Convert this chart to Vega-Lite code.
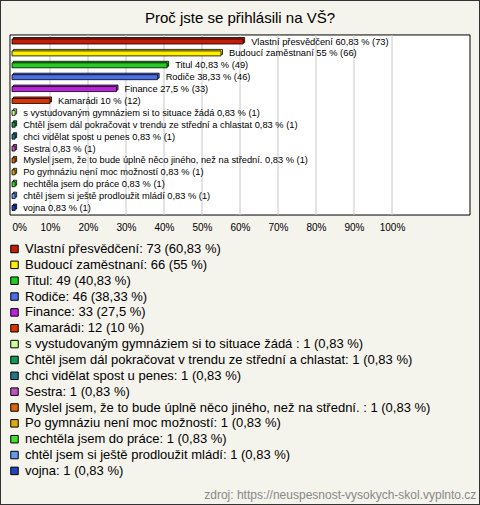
{
  "$schema": "https://vega.github.io/schema/vega-lite/v6.json",
  "width": 480,
  "height": 505,
  "autosize": {"type": "none"},
  "padding": 0,
  "background": "#f4f3ec",
  "config": {
    "view": {"stroke": "#333333", "strokeWidth": 2, "fill": "#f4f3ec"},
    "font": "Liberation Sans"
  },
  "title": {
    "text": "Proč jste se přihlásili na VŠ?",
    "fontSize": 15,
    "fontWeight": "normal",
    "anchor": "middle",
    "offset": -26,
    "color": "#000000",
    "font": "Liberation Sans"
  },
  "datasets": {
    "rows": [
      {"rank": 0, "pct": 60.83, "legend": "Vlastní přesvědčení: 73 (60,83 %)", "barLabel": "Vlastní přesvědčení 60,83 % (73)"},
      {"rank": 1, "pct": 55, "legend": "Budoucí zaměstnaní: 66 (55 %)", "barLabel": "Budoucí zaměstnaní 55 % (66)"},
      {"rank": 2, "pct": 40.83, "legend": "Titul: 49 (40,83 %)", "barLabel": "Titul 40,83 % (49)"},
      {"rank": 3, "pct": 38.33, "legend": "Rodiče: 46 (38,33 %)", "barLabel": "Rodiče 38,33 % (46)"},
      {"rank": 4, "pct": 27.5, "legend": "Finance: 33 (27,5 %)", "barLabel": "Finance 27,5 % (33)"},
      {"rank": 5, "pct": 10, "legend": "Kamarádi: 12 (10 %)", "barLabel": "Kamarádi 10 % (12)"},
      {"rank": 6, "pct": 0.83, "legend": "s vystudovaným gymnáziem si to situace žádá : 1 (0,83 %)", "barLabel": "s vystudovaným gymnáziem si to situace žádá  0,83 % (1)"},
      {"rank": 7, "pct": 0.83, "legend": "Chtěl jsem dál pokračovat v trendu ze střední a chlastat: 1 (0,83 %)", "barLabel": "Chtěl jsem dál pokračovat v trendu ze střední a chlastat 0,83 % (1)"},
      {"rank": 8, "pct": 0.83, "legend": "chci vidělat spost u penes: 1 (0,83 %)", "barLabel": "chci vidělat spost u penes 0,83 % (1)"},
      {"rank": 9, "pct": 0.83, "legend": "Sestra: 1 (0,83 %)", "barLabel": "Sestra 0,83 % (1)"},
      {"rank": 10, "pct": 0.83, "legend": "Myslel jsem, že to bude úplně něco jiného, než na střední. : 1 (0,83 %)", "barLabel": "Myslel jsem, že to bude úplně něco jiného, než na střední.  0,83 % (1)"},
      {"rank": 11, "pct": 0.83, "legend": "Po gymnáziu není moc možností: 1 (0,83 %)", "barLabel": "Po gymnáziu není moc možností 0,83 % (1)"},
      {"rank": 12, "pct": 0.83, "legend": "nechtěla jsem do práce: 1 (0,83 %)", "barLabel": "nechtěla jsem do práce 0,83 % (1)"},
      {"rank": 13, "pct": 0.83, "legend": "chtěl jsem si ještě prodloužit mládí: 1 (0,83 %)", "barLabel": "chtěl jsem si ještě prodloužit mládí 0,83 % (1)"},
      {"rank": 14, "pct": 0.83, "legend": "vojna: 1 (0,83 %)", "barLabel": "vojna 0,83 % (1)"}
    ],
    "grid": [{"v": 10}, {"v": 20}, {"v": 30}, {"v": 40}, {"v": 50}, {"v": 60}, {"v": 70}, {"v": 80}, {"v": 90}, {"v": 100}],
    "source": [{"src": "zdroj: https://neuspesnost-vysokych-skol.vyplnto.cz"}],
    "box": [{"x0": -0.53, "x1": 120.53, "y0": -0.55, "y1": 14.59}]
  },
  "layer": [
    {
      "data": {"name": "box"},
      "mark": {"type": "rect", "fill": "#ffffff", "stroke": "#000000", "strokeWidth": 1},
      "encoding": {
        "x": {"field": "x0", "type": "quantitative",
          "scale": {"domain": [0, 100], "range": [12, 392], "zero": false, "nice": false, "padding": 0},
          "axis": {
            "orient": "bottom", "offset": -283, "grid": false, "domain": false, "ticks": false, "tickSize": 0,
            "values": [0, 10, 20, 30, 40, 50, 60, 70, 80, 90, 100],
            "labelExpr": "datum.value + '%'", "labelFontSize": 10, "labelColor": "#000000", "labelPadding": 0,
            "labelBaseline": "top", "labelFont": "Liberation Sans",
            "labelAlign": {"expr": "datum.value === 0 ? 'left' : 'center'"},
            "labelFlush": false, "labelOverlap": false, "title": null
          }},
        "x2": {"field": "x1"},
        "y": {"field": "y0", "type": "quantitative",
          "scale": {"domain": [0, 14], "range": [41.5, 208], "zero": false, "nice": false, "padding": 0},
          "axis": null},
        "y2": {"field": "y1"}
      }
    },
    {
      "data": {"name": "grid"},
      "mark": {"type": "rule", "color": "#c8c8c8", "strokeWidth": 1},
      "encoding": {
        "x": {"field": "v", "type": "quantitative"},
        "y": {"datum": -0.55, "type": "quantitative"},
        "y2": {"datum": 14.59}
      }
    },
    {
      "data": {"name": "rows"},
      "mark": {"type": "bar", "orient": "horizontal", "size": 5, "stroke": "#000000", "strokeWidth": 0.8, "xOffset": 1.5, "x2Offset": 1.5, "yOffset": -1.5, "y2Offset": -1.5},
      "encoding": {
        "x": {"field": "pct", "type": "quantitative"},
        "y": {"field": "rank", "type": "quantitative"},
        "color": {"field": "legend", "type": "nominal"}
      }
    },
    {
      "data": {"name": "rows"},
      "mark": {"type": "bar", "orient": "horizontal", "size": 5, "stroke": "#000000", "strokeWidth": 0.8},
      "encoding": {
        "x": {"field": "pct", "type": "quantitative"},
        "y": {"field": "rank", "type": "quantitative"},
        "color": {
          "field": "legend", "type": "nominal",
          "scale": {
            "domain": [
              "Vlastní přesvědčení: 73 (60,83 %)",
              "Budoucí zaměstnaní: 66 (55 %)",
              "Titul: 49 (40,83 %)",
              "Rodiče: 46 (38,33 %)",
              "Finance: 33 (27,5 %)",
              "Kamarádi: 12 (10 %)",
              "s vystudovaným gymnáziem si to situace žádá : 1 (0,83 %)",
              "Chtěl jsem dál pokračovat v trendu ze střední a chlastat: 1 (0,83 %)",
              "chci vidělat spost u penes: 1 (0,83 %)",
              "Sestra: 1 (0,83 %)",
              "Myslel jsem, že to bude úplně něco jiného, než na střední. : 1 (0,83 %)",
              "Po gymnáziu není moc možností: 1 (0,83 %)",
              "nechtěla jsem do práce: 1 (0,83 %)",
              "chtěl jsem si ještě prodloužit mládí: 1 (0,83 %)",
              "vojna: 1 (0,83 %)"
            ],
            "range": ["#c41e0a", "#ffee00", "#22cc22", "#4a6ee8", "#bb22dd", "#dd3300", "#ccff99", "#119955", "#227788", "#bb55bb", "#dd6611", "#ddaa11", "#44dd33", "#6699ee", "#2244bb"]
          },
          "legend": {
            "orient": "none", "legendX": 8, "legendY": 242.5, "direction": "vertical",
            "title": null, "symbolType": "square", "symbolSize": 56,
            "symbolStrokeColor": "#222222", "symbolStrokeWidth": 1, "symbolOpacity": 1,
            "labelFontSize": 13, "labelFont": "Liberation Sans", "labelColor": "#000000",
            "rowPadding": 1.85, "labelOffset": 4, "padding": 0, "labelLimit": 1000
          }
        }
      }
    },
    {
      "data": {"name": "rows"},
      "mark": {"type": "text", "align": "left", "baseline": "middle", "dx": 8, "fontSize": 9.3, "color": "#000000", "font": "Liberation Sans"},
      "encoding": {
        "x": {"field": "pct", "type": "quantitative"},
        "y": {"field": "rank", "type": "quantitative"},
        "text": {"field": "barLabel"}
      }
    },
    {
      "data": {"name": "source"},
      "mark": {"type": "text", "align": "right", "baseline": "middle", "fontSize": 12, "color": "#888888", "font": "Liberation Sans"},
      "encoding": {
        "x": {"datum": 122.2, "type": "quantitative"},
        "y": {"datum": 38.15, "type": "quantitative"},
        "text": {"field": "src"}
      }
    }
  ]
}
